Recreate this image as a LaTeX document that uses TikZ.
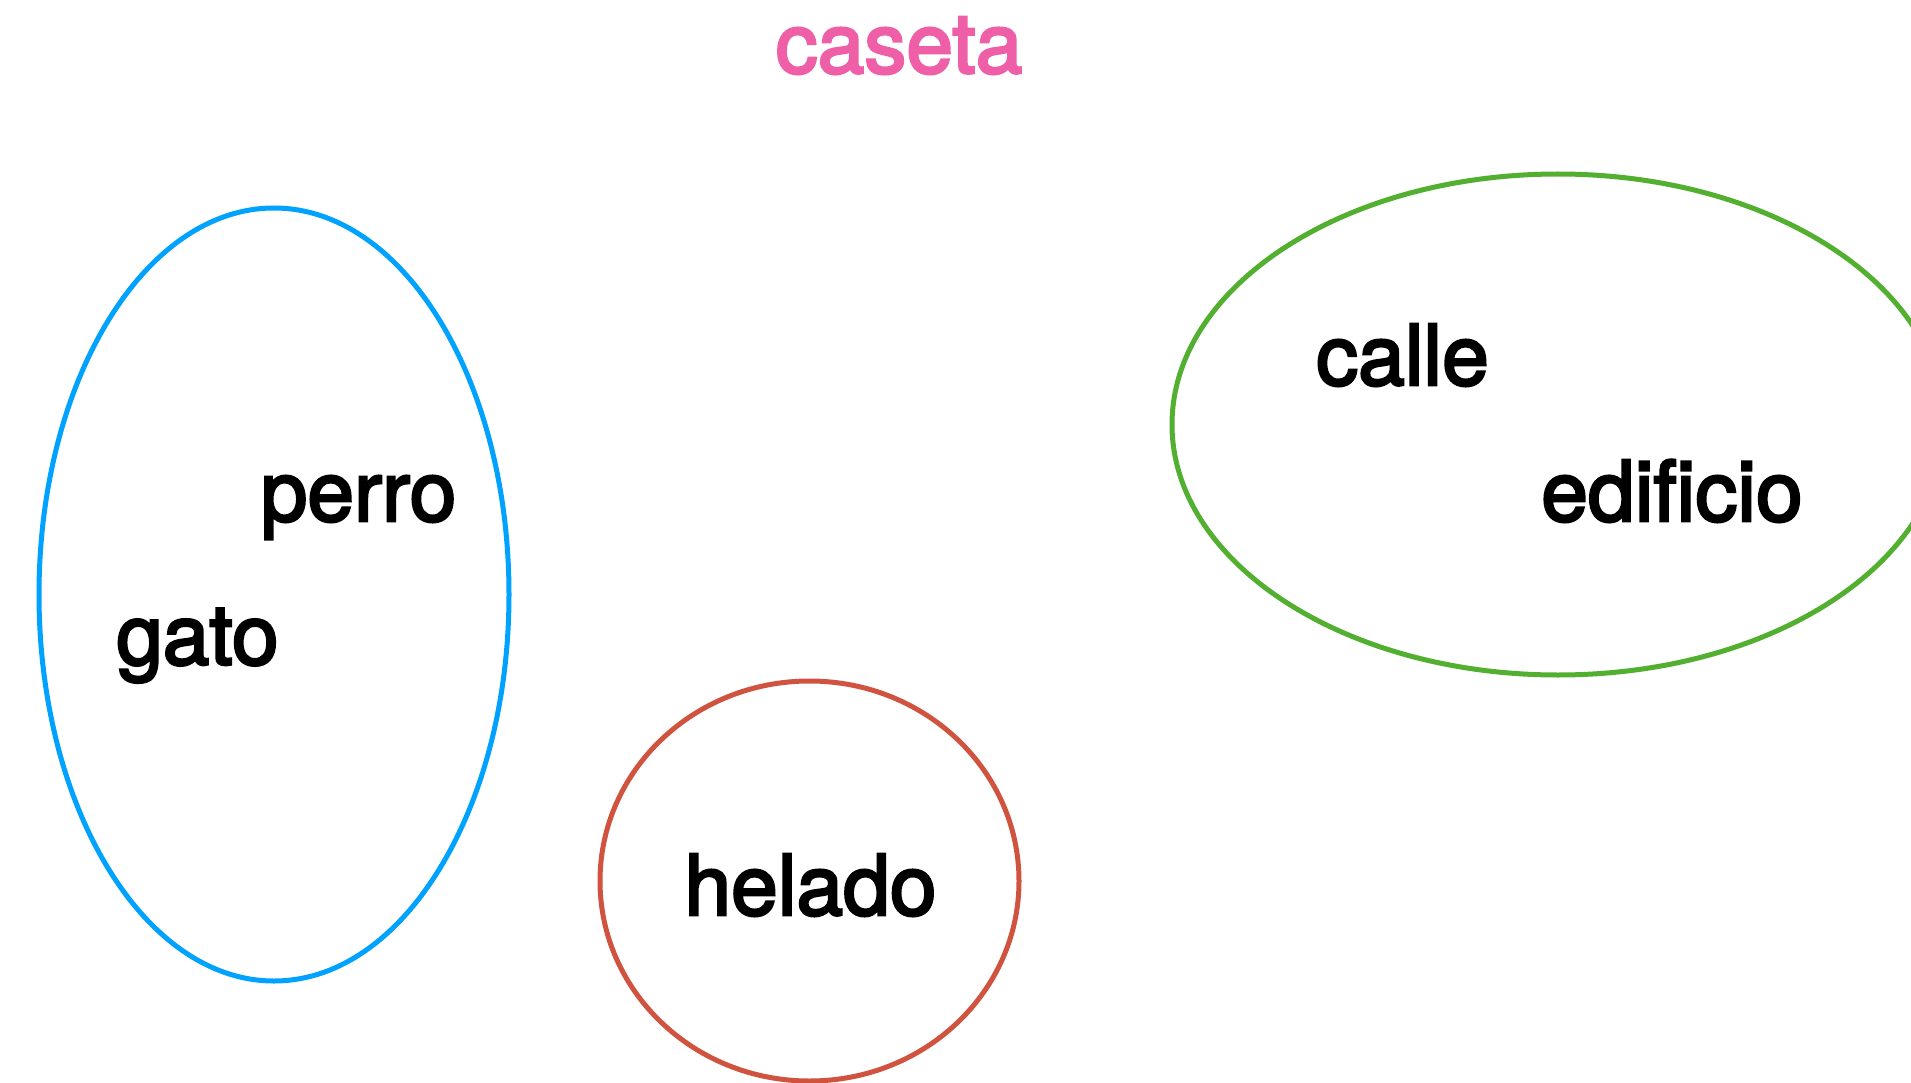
\documentclass[tikz,border=0pt]{standalone}
\usepackage{fontspec}
\setmainfont{TeX Gyre Heros}[FakeBold=3]
\definecolor{cblue}{HTML}{00A2FF}
\definecolor{cgreen}{HTML}{52AF30}
\definecolor{cred}{HTML}{D0533F}
\definecolor{cpink}{HTML}{EF5FA7}
\begin{document}
\begin{tikzpicture}[x=1pt,y=-1pt,
  word/.style={anchor=base,inner sep=0pt,font=\fontsize{84}{92}\selectfont},
  ring/.style={line width=5pt}]
\useasboundingbox (0,0) rectangle (1911,1083);
\fill[white] (0,0) rectangle (1911,1083);
\coordinate (cb) at (274,594.5);
\coordinate (cg) at (1558,424.5);
\coordinate (cr) at (809.5,881);
\draw[ring,cblue] (cb) ellipse [x radius=235pt,y radius=386.5pt];
\draw[ring,cgreen] (cg) ellipse [x radius=386pt,y radius=250.5pt];
\draw[ring,cred] (cr) ellipse [x radius=209.5pt,y radius=200pt];
\node[word,text=cpink] (caseta) at (899,73) {caseta};
\node[word] (perro) at (358.5,521) {perro};
\node[word] (gato) at (197.5,664.5) {gato};
\node[word] (calle) at (1402.5,385) {calle};
\node[word] (edificio) at (1672,521) {edificio};
\node[word] (helado) at (810.5,915) {helado};
\end{tikzpicture}
\end{document}
